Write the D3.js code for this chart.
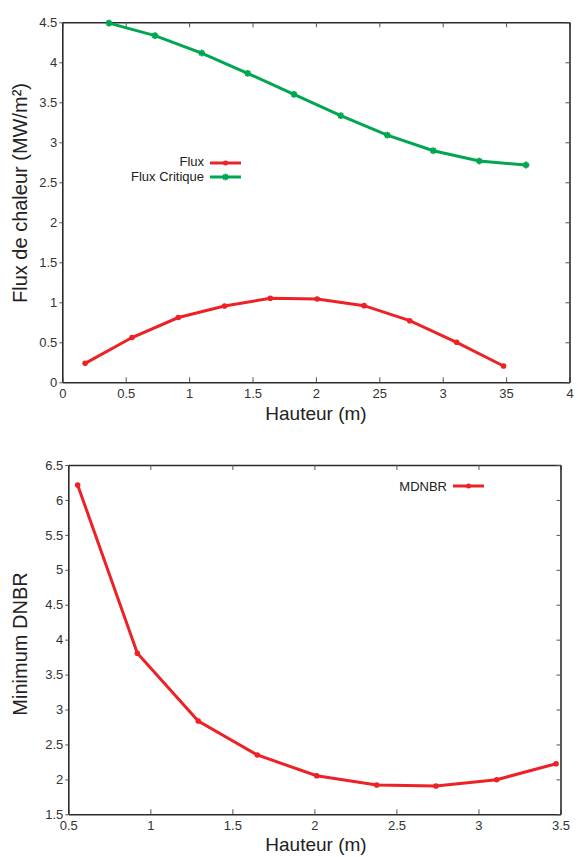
<!DOCTYPE html>
<html><head><meta charset="utf-8">
<script src="https://cdn.jsdelivr.net/npm/d3@7"></script>
<style>
html,body{margin:0;padding:0;background:#fff;}
svg{display:block;font-family:"Open Sans",sans-serif;}
</style></head>
<body><svg id="c" width="578" height="857"></svg>
<script>
// ---- Data ----
const hauteurFlux = [0.18, 0.55, 0.915, 1.28, 1.64, 2.01, 2.38, 2.74, 3.11, 3.48];
const flux = [0.237, 0.56, 0.81, 0.954, 1.05, 1.041, 0.958, 0.77, 0.50, 0.204];
const hauteurCritique = [0.368, 0.731, 1.099, 1.462, 1.827, 2.196, 2.563, 2.926, 3.289, 3.657];
const fluxCritique = [4.49, 4.333, 4.116, 3.8625, 3.6, 3.3325, 3.09, 2.895, 2.766, 2.716];
const topXTicks = [0, 0.5, 1, 1.5, 2, 2.5, 3, 3.5, 4];
const topXTickLabels = ["0", "0.5", "1", "1.5", "2", "25", "3", "35", "4"];
const topYTicks = [0, 0.5, 1, 1.5, 2, 2.5, 3, 3.5, 4, 4.5];

const hauteurMDNBR = [0.557, 0.921, 1.292, 1.652, 2.014, 2.38, 2.741, 3.111, 3.473];
const mdnbr = [6.214, 3.805, 2.836, 2.349, 2.052, 1.919, 1.905, 1.995, 2.224];
const botXTicks = [0.5, 1, 1.5, 2, 2.5, 3, 3.5];
const botYTicks = [1.5, 2, 2.5, 3, 3.5, 4, 4.5, 5, 5.5, 6, 6.5];

const RED = "#ec2227", GREEN = "#00a651", AX = "#2b2b2b";
const FONT = "'Liberation Sans',Arial,sans-serif";
const svg = d3.select("#c");

function fmt(v){ return String(v); }

function frame(g, x, y, xTicks, xLabels, yTicks){
  const [x0,x1] = x.range(), [y0,y1] = y.range();
  const bx = d3.axisBottom(x).tickValues(xTicks).tickSizeInner(-5).tickSizeOuter(0).tickPadding(6)
    .tickFormat((d,i)=>xLabels ? xLabels[i] : fmt(d));
  const gb = g.append("g").attr("transform",`translate(0,${y0})`).call(bx);
  const tx = d3.axisTop(x).tickValues(xTicks).tickSizeInner(-5).tickSizeOuter(0).tickFormat("");
  const gt = g.append("g").attr("transform",`translate(0,${y1})`).call(tx);
  const ly = d3.axisLeft(y).tickValues(yTicks).tickSizeInner(3).tickSizeOuter(0).tickPadding(2).tickFormat(fmt);
  const gl = g.append("g").attr("transform",`translate(${x0},0)`).call(ly);
  const ry = d3.axisRight(y).tickValues(yTicks).tickSizeInner(-4).tickSizeOuter(0).tickFormat("");
  const gr = g.append("g").attr("transform",`translate(${x1},0)`).call(ry);
  [gb,gt,gl,gr].forEach(a=>{
    a.select(".domain").attr("stroke",AX).attr("stroke-width",1.6);
    a.selectAll(".tick line").attr("stroke","#555").attr("stroke-width",1);
    a.selectAll(".tick text").attr("fill","#333").style("font-size","13px").style("font-family",FONT);
  });
  gl.selectAll(".tick text").attr("dy","0.32em");
}

function star(g, cx, cy, color){
  const s = 3.4;
  const p = g.append("g").attr("transform",`translate(${cx},${cy})`);
  [0,45,90,135].forEach(a=>{
    p.append("line").attr("x1",-s).attr("x2",s).attr("y1",0).attr("y2",0)
      .attr("transform",`rotate(${a})`).attr("stroke",color).attr("stroke-width",1.9);
  });
}

function label(g, x, y, txt, size, anchor, rot){
  const t = g.append("text").attr("text-anchor",anchor||"middle").attr("dy","0.35em")
    .attr("fill","#222").style("font-size",size+"px").style("font-family",FONT).text(txt);
  if (rot) t.attr("transform",`translate(${x},${y}) rotate(-90)`);
  else t.attr("x",x).attr("y",y);
  return t;
}

// ---------- Top chart ----------
{
  const x = d3.scaleLinear().domain([0,4]).range([62.3,569.5]);
  const y = d3.scaleLinear().domain([0,4.5]).range([382.3,22.3]);
  const g = svg.append("g");
  frame(g, x, y, topXTicks, topXTickLabels, topYTicks);
  const line = d3.line().x(d=>x(d[0])).y(d=>y(d[1]));
  const fd = hauteurFlux.map((h,i)=>[h,flux[i]]);
  const cd = hauteurCritique.map((h,i)=>[h,fluxCritique[i]]);
  g.append("path").datum(cd).attr("d",line).attr("fill","none").attr("stroke",GREEN).attr("stroke-width",3);
  cd.forEach(d=>star(g,x(d[0]),y(d[1]),GREEN));
  g.append("path").datum(fd).attr("d",line).attr("fill","none").attr("stroke",RED).attr("stroke-width",3);
  g.selectAll("circle.f").data(fd).enter().append("circle").attr("cx",d=>x(d[0])).attr("cy",d=>y(d[1])).attr("r",2.8).attr("fill",RED);
  const lg = g.append("g");
  label(lg,204,161.5,"Flux",13,"end");
  lg.append("line").attr("x1",210).attr("x2",241).attr("y1",163).attr("y2",163).attr("stroke",RED).attr("stroke-width",3);
  lg.append("circle").attr("cx",225.5).attr("cy",163).attr("r",2.5).attr("fill",RED);
  label(lg,204,176.5,"Flux Critique",13,"end");
  lg.append("line").attr("x1",210).attr("x2",241).attr("y1",177).attr("y2",177).attr("stroke",GREEN).attr("stroke-width",3);
  star(lg,225.5,177,GREEN);
  label(g,316,413,"Hauteur (m)",19);
  label(g,20,193,"Flux de chaleur (MW/m²)",20,"middle",true);
}

// ---------- Bottom chart ----------
{
  const x = d3.scaleLinear().domain([0.5,3.5]).range([68.3,560.5]);
  const y = d3.scaleLinear().domain([1.5,6.5]).range([814.3,465]);
  const g = svg.append("g");
  frame(g, x, y, botXTicks, null, botYTicks);
  const line = d3.line().x(d=>x(d[0])).y(d=>y(d[1]));
  const md = hauteurMDNBR.map((h,i)=>[h,mdnbr[i]]);
  g.append("path").datum(md).attr("d",line).attr("fill","none").attr("stroke",RED).attr("stroke-width",3);
  g.selectAll("circle.m").data(md).enter().append("circle").attr("cx",d=>x(d[0])).attr("cy",d=>y(d[1])).attr("r",2.8).attr("fill",RED);
  const lg = g.append("g");
  label(lg,447,486,"MDNBR",13,"end");
  lg.append("line").attr("x1",453).attr("x2",484).attr("y1",486).attr("y2",486).attr("stroke",RED).attr("stroke-width",3);
  lg.append("circle").attr("cx",468.5).attr("cy",486).attr("r",2.5).attr("fill",RED);
  label(g,316,844,"Hauteur (m)",19);
  label(g,20,644,"Minimum DNBR",20,"middle",true);
}
</script></body></html>
